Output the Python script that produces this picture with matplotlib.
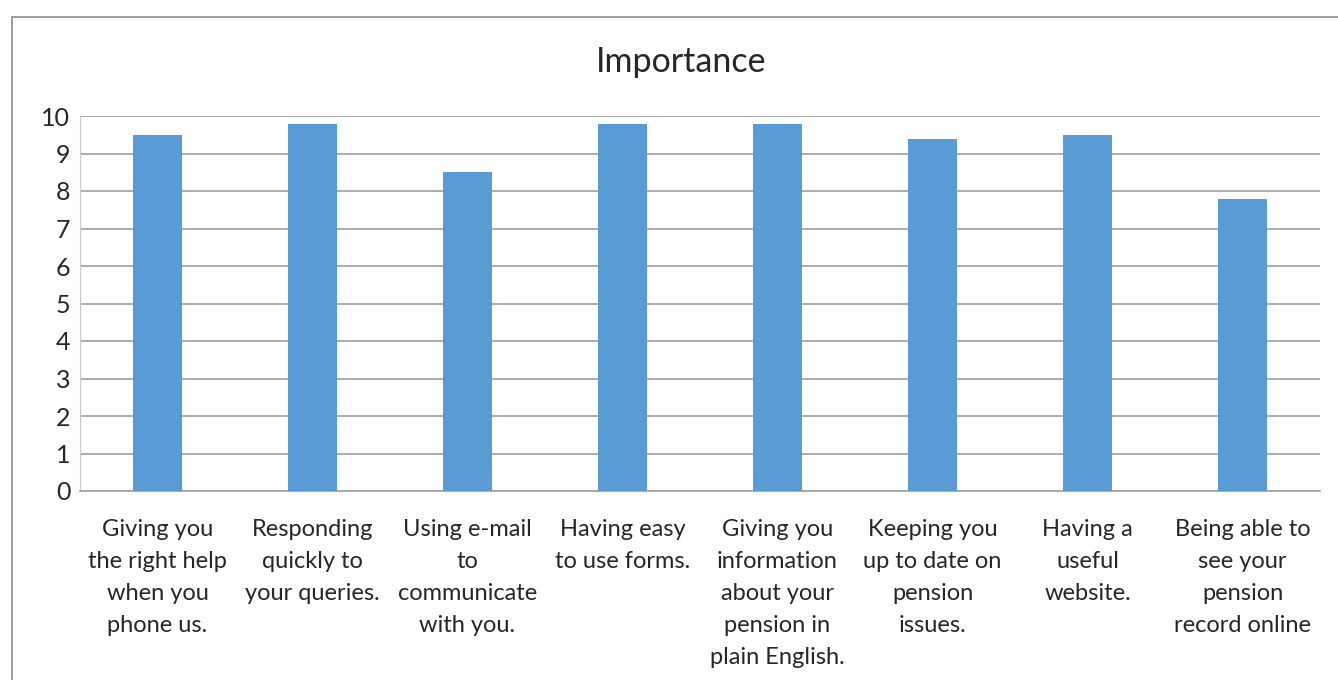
import matplotlib.pyplot as plt
from matplotlib.patches import Rectangle

plt.rcParams['font.family'] = ['Lato', 'DejaVu Sans']

categories = [
    "Giving you\nthe right help\nwhen you\nphone us.",
    "Responding\nquickly to\nyour queries.",
    "Using e-mail\nto\ncommunicate\nwith you.",
    "Having easy\nto use forms.",
    "Giving you\ninformation\nabout your\npension in\nplain English.",
    "Keeping you\nup to date on\npension\nissues.",
    "Having a\nuseful\nwebsite.",
    "Being able to\nsee your\npension\nrecord online",
]
importance = [9.5, 9.8, 8.5, 9.8, 9.8, 9.4, 9.5, 7.8]

fig = plt.figure(figsize=(13.38, 6.80), dpi=100)
ax = fig.add_axes([80 / 1338, 1 - 491 / 680, (1320 - 80) / 1338, (491 - 116) / 680])

# chart frame
fig.patches.append(Rectangle((12 / 1338, -0.1), 1.2, 0.1 + (1 - 17 / 680),
                             transform=fig.transFigure, fill=False,
                             edgecolor='#8c8c8c', linewidth=1.2))

x = range(len(categories))
ax.bar(x, importance, width=0.32, color='#5B9BD5', zorder=3)

ax.set_xlim(-0.5, len(categories) - 0.5)
ax.set_ylim(0, 10)
ax.set_yticks(range(0, 11))
ax.yaxis.grid(True, color='#a6a6a6', linewidth=1.3, zorder=0)
ax.set_axisbelow(True)

ax.set_xticks(list(x))
ax.set_xticklabels(categories, multialignment='center', linespacing=1.65)
ax.tick_params(axis='x', length=0, pad=20, labelsize=17, colors='#262626')
ax.tick_params(axis='y', length=0, pad=7, labelsize=18, colors='#262626')

for side in ['top', 'right']:
    ax.spines[side].set_visible(False)
ax.spines['left'].set_color('#c8c8c8')
ax.spines['bottom'].set_color('#a6a6a6')
ax.spines['bottom'].set_linewidth(1.3)

fig.text(681 / 1338, 1 - 62 / 680, "Importance", ha='center', va='center',
         fontsize=24.5, color='#262626')

fig.savefig('out.png', dpi=100)
